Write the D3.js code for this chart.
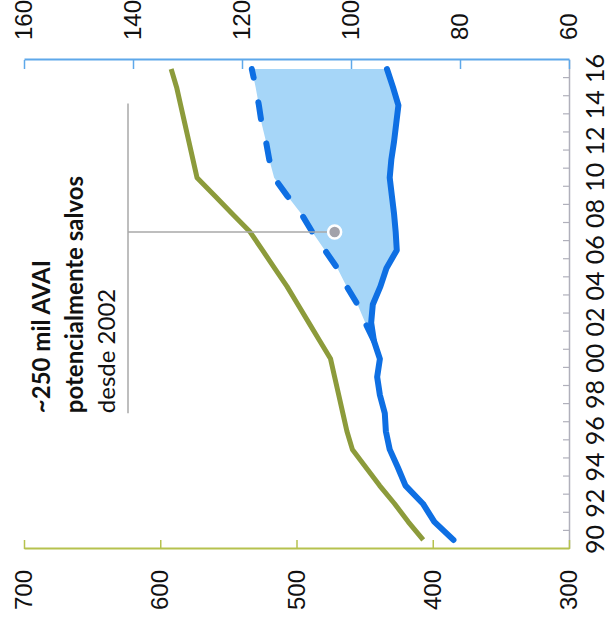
<!DOCTYPE html>
<html><head><meta charset="utf-8">
<script src="https://cdn.jsdelivr.net/npm/d3@7/dist/d3.min.js"></script>
<style>body{margin:0;background:#fff;overflow:hidden}svg{display:block}</style>
</head><body>
<svg id="chart" width="609" height="630"></svg>
<script>
// ---- data ----
const years = [1990,1991,1992,1993,1994,1995,1996,1997,1998,1999,2000,2001,2002,2003,2004,2005,2006,2007,2008,2009,2010,2011,2012,2013,2014,2015,2016];
const yearTickLabels = ["90","92","94","96","98","00","02","04","06","08","10","12","14","16"];
const yearTickValues = [1990,1992,1994,1996,1998,2000,2002,2004,2006,2008,2010,2012,2014,2016];
// green series (left axis, 300-700)
const greenValues = [407,418,428,439,449,459,463,466,469,472,475,483,491,499,507,516,525,534,547,560,573,576,579,582,585,588,592];
// blue series (right axis, 60-160)
const blueValues = [81.2,84.7,86.8,90.0,91.4,92.9,93.6,93.8,94.7,95.2,94.7,95.8,96.3,96.0,94.6,93.5,91.6,91.8,92.1,92.5,92.9,92.6,92.1,91.7,91.3,92.3,93.4];
// projected blue (dashed), from 2001
const projYears = [2001,2002,2003,2004,2005,2006,2007,2008,2009,2010,2011,2012,2013,2014,2015,2016];
const projValues = [95.8,97.4,98.8,100.8,102.5,104.8,107.1,109.1,111.7,114.1,115.0,115.6,116.4,116.9,117.5,118.2];
const leftTicks = [300,400,500,600,700];
const rightTicks = [60,80,100,120,140,160];
const annotLines = ["~250 mil AVAI","potencialmente salvos","desde 2002"];
const annotBold = [true,true,false];
const annotSpan = [1997.0, 2014.1];
const annotPoint = {year: 2007, value: 103};

// ---- layout (chart is drawn in its own frame, then rotated -90deg) ----
const W = 630, H = 609;
const svg = d3.select("#chart");
const g = svg.append("g").attr("transform", `translate(0,${W}) rotate(-90)`);

const x = d3.scaleLinear().domain([1989.5, 2016.5]).range([81, 570]);
const yL = d3.scaleLinear().domain([300, 700]).range([569, 24]);
const yR = d3.scaleLinear().domain([60, 160]).range([569, 24]);

const blue = "#0e6fe3", green = "#8c9b3b", fill = "#a6d6f8";

// shaded area between actual and projection
const areaData = projYears.map((yr, i) => ({year: yr, proj: projValues[i], actual: blueValues[years.indexOf(yr)]}));
g.append("path").datum(areaData)
  .attr("d", d3.area().x(d => x(d.year)).y0(d => yR(d.actual)).y1(d => yR(d.proj)))
  .attr("fill", fill);

// x axis (category boundaries ticks)
const boundaries = years.slice(0, -1).map(y => y + 0.5);
const xAxisG = g.append("g").attr("transform", "translate(0,569)")
  .call(d3.axisBottom(x).tickValues(boundaries).tickFormat("").tickSizeInner(-6).tickSizeOuter(0));
xAxisG.select(".domain").attr("stroke", "#b0b0bb").attr("stroke-width", 1.5);
xAxisG.selectAll(".tick line").attr("stroke", "#b0b0bb").attr("stroke-width", 1.2);

const xLab = g.append("g").attr("transform", "translate(0,569)")
  .call(d3.axisBottom(x).tickValues(yearTickValues).tickFormat((d, i) => yearTickLabels[i]).tickSize(0).tickPadding(17));
xLab.select(".domain").remove();
xLab.selectAll("text").attr("font-family", "Lato, 'Open Sans', sans-serif").attr("font-size", 25).attr("fill", "#111");

// left axis (green)
const lAx = g.append("g").attr("transform", "translate(81,0)")
  .call(d3.axisLeft(yL).tickValues(leftTicks).tickSizeInner(-9).tickSizeOuter(0).tickPadding(21));
lAx.select(".domain").attr("stroke", "#b6c24e").attr("stroke-width", 2);
lAx.selectAll(".tick line").attr("stroke", "#b6c24e").attr("stroke-width", 1.5);
lAx.selectAll("text").attr("font-family", "'Liberation Sans', Arial, sans-serif").attr("font-size", 24).attr("fill", "#111");

// right axis (blue)
const rAx = g.append("g").attr("transform", "translate(570,0)")
  .call(d3.axisRight(yR).tickValues(rightTicks).tickSizeInner(-9).tickSizeOuter(0).tickPadding(20));
rAx.select(".domain").attr("stroke", "#5ea8ea").attr("stroke-width", 2);
rAx.selectAll(".tick line").attr("stroke", "#5ea8ea").attr("stroke-width", 1.5);
rAx.selectAll("text").attr("font-family", "'Liberation Sans', Arial, sans-serif").attr("font-size", 24).attr("fill", "#111");

// lines
g.append("path").datum(years.map((yr, i) => [yr, greenValues[i]]))
  .attr("d", d3.line().x(d => x(d[0])).y(d => yL(d[1])))
  .attr("fill", "none").attr("stroke", green).attr("stroke-width", 5).attr("stroke-linejoin", "round");

g.append("path").datum(projYears.map((yr, i) => [yr, projValues[i]]))
  .attr("d", d3.line().x(d => x(d[0])).y(d => yR(d[1])))
  .attr("fill", "none").attr("stroke", blue).attr("stroke-width", 6)
  .attr("stroke-dasharray", "17,25").attr("stroke-linecap", "round");

g.append("path").datum(years.map((yr, i) => [yr, blueValues[i]]))
  .attr("d", d3.line().x(d => x(d[0])).y(d => yR(d[1])))
  .attr("fill", "none").attr("stroke", blue).attr("stroke-width", 6).attr("stroke-linejoin", "round").attr("stroke-linecap", "round");

// annotation
const bracketY = 128;
g.append("line").attr("x1", x(annotSpan[0])).attr("x2", x(annotSpan[1]))
  .attr("y1", bracketY).attr("y2", bracketY).attr("stroke", "#a9a9a9").attr("stroke-width", 1.5);
g.append("line").attr("x1", x(annotPoint.year)).attr("x2", x(annotPoint.year))
  .attr("y1", bracketY).attr("y2", yR(annotPoint.value)).attr("stroke", "#a9a9a9").attr("stroke-width", 1.5);
g.append("circle").attr("cx", x(annotPoint.year)).attr("cy", yR(annotPoint.value)).attr("r", 6.5)
  .attr("fill", "#a2a2aa").attr("stroke", "#fff").attr("stroke-width", 2.5);

const tx = g.append("text").attr("font-family", "Lato, 'Open Sans', sans-serif").attr("font-size", 24).attr("fill", "#111");
annotLines.forEach((t, i) => {
  tx.append("tspan").attr("x", x(annotSpan[0])).attr("y", 50 + i * 32.5)
    .attr("font-weight", annotBold[i] ? 700 : 400).text(t);
});
</script>
</body></html>
